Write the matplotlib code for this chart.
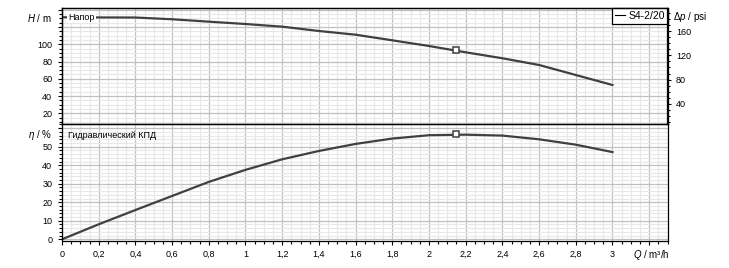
import matplotlib
matplotlib.use('Agg')
import matplotlib.pyplot as plt
from matplotlib.lines import Line2D
from matplotlib.ticker import MultipleLocator, FuncFormatter

plt.rcParams['font.family'] = ['Liberation Sans', 'DejaVu Sans']
plt.rcParams['mathtext.fontset'] = 'custom'
plt.rcParams['mathtext.it'] = 'Liberation Sans:italic'
plt.rcParams['mathtext.rm'] = 'Liberation Sans'

# values
q = [0, 0.2, 0.4, 0.6, 0.8, 1.0, 1.2, 1.4, 1.6, 1.8, 2.0, 2.2, 2.4, 2.6, 2.8, 3.0]
head = [131.3, 131.1, 131.0, 129.0, 126.2, 123.5, 120.4, 115.4, 111.1, 104.6,
        98.0, 90.7, 83.8, 76.0, 64.4, 52.8]
eff = [0, 8.1, 15.8, 23.4, 31.0, 37.5, 43.2, 47.7, 51.5, 54.4,
       56.2, 56.5, 56.0, 54.0, 51.1, 47.1]
duty_q = [2.15]
duty_h = [93.0]
duty_eff = [56.8]
pump_name = 'S4-2/20'

W, H = 729, 268
fig = plt.figure(figsize=(W / 100, H / 100), dpi=100)

left = 62 / W
width = (667.5 - 62) / W
ax1 = fig.add_axes([left, 1 - 124.3 / H, width, 116 / H])
ax2 = fig.add_axes([left, 1 - 240.5 / H, width, 116.2 / H])

line_col = '#404040'
major_grid = '#c0c0c0'
minor_grid = '#e8e8e8'


def comma(v, pos):
    if abs(v - 3.2) < 1e-6:
        return ''
    s = ('%.1f' % v).rstrip('0').rstrip('.')
    return s.replace('.', ',')


for ax in (ax1, ax2):
    ax.set_xlim(0, 3.3)
    ax.xaxis.set_major_locator(MultipleLocator(0.2))
    ax.xaxis.set_minor_locator(MultipleLocator(0.05))
    ax.grid(which='major', color=major_grid, lw=0.9)
    ax.grid(which='minor', color=minor_grid, lw=0.8)
    ax.set_axisbelow(True)
    for sp in ax.spines.values():
        sp.set_linewidth(0.9)
        sp.set_color('black')
    ax.tick_params(which='major', direction='out', length=3, width=0.8,
                   labelsize=6.5, pad=4)
    ax.tick_params(which='minor', direction='out', length=2, width=0.8)

# head panel
ax1.plot(q, head, color=line_col, lw=1.6)
ax1.plot(duty_q, duty_h, 's', ms=5, mfc='white', mec=line_col, mew=1.1)
ax1.set_ylim(7.25, 141.7)
ax1.yaxis.set_major_locator(MultipleLocator(20))
ax1.yaxis.set_minor_locator(MultipleLocator(5))
ax1.yaxis.set_major_formatter(FuncFormatter(lambda v, p: '%d' % v if v <= 100 else ''))
ax1.tick_params(axis='x', which='both', bottom=False, labelbottom=False)
ax1.text(0.01, 0.925, 'Напор', transform=ax1.transAxes, fontsize=6.5,
         va='center', ha='left', zorder=5,
         bbox=dict(facecolor='white', edgecolor='none', pad=0.8))
leg = ax1.legend([Line2D([], [], color='black', lw=0.8)], [pump_name],
                 loc='upper right', borderaxespad=0, fontsize=7.5,
                 frameon=True, fancybox=False, handlelength=1.0,
                 handletextpad=0.3, borderpad=0.25)
leg.get_frame().set_edgecolor('black')
leg.get_frame().set_linewidth(0.9)
leg.get_frame().set_alpha(1)

ax1r = ax1.twinx()
ax1r.set_ylim(6.3, 197.5)
ax1r.yaxis.set_major_locator(MultipleLocator(40))
ax1r.yaxis.set_minor_locator(MultipleLocator(10))
ax1r.yaxis.set_major_formatter(FuncFormatter(lambda v, p: '%d' % v if v <= 160 else ''))
ax1r.tick_params(which='major', direction='out', length=3, width=0.8,
                 labelsize=6.5, pad=3)
ax1r.tick_params(which='minor', direction='out', length=2, width=0.8)
for sp in ax1r.spines.values():
    sp.set_linewidth(0.9)

# efficiency panel
ax2.plot(q, eff, color=line_col, lw=1.6)
ax2.plot(duty_q, duty_eff, 's', ms=5, mfc='white', mec=line_col, mew=1.1)
ax2.set_ylim(-0.65, 62.1)
ax2.yaxis.set_major_locator(MultipleLocator(10))
ax2.yaxis.set_minor_locator(MultipleLocator(2))
ax2.yaxis.set_major_formatter(FuncFormatter(lambda v, p: '%d' % v if v <= 50 else ''))
ax2.xaxis.set_major_formatter(FuncFormatter(comma))
ax2.text(0.01, 0.9, 'Гидравлический КПД', transform=ax2.transAxes,
         fontsize=6.5, va='center', ha='left')

# axis captions
fig.text(52 / W, 1 - 17.5 / H, '$H$ / m', fontsize=7, ha='right', va='center')
fig.text(52 / W, 1 - 135.5 / H, r'$\eta$ / %', fontsize=7, ha='right', va='center')
fig.text(673 / W, 1 - 17.5 / H, r'$\Delta p$ / psi', fontsize=7, ha='left', va='center')
fig.text(651 / W, 1 - 255.5 / H, '$Q$ / m³/h', fontsize=7, ha='center', va='center')

fig.savefig('out.png', dpi=100)
